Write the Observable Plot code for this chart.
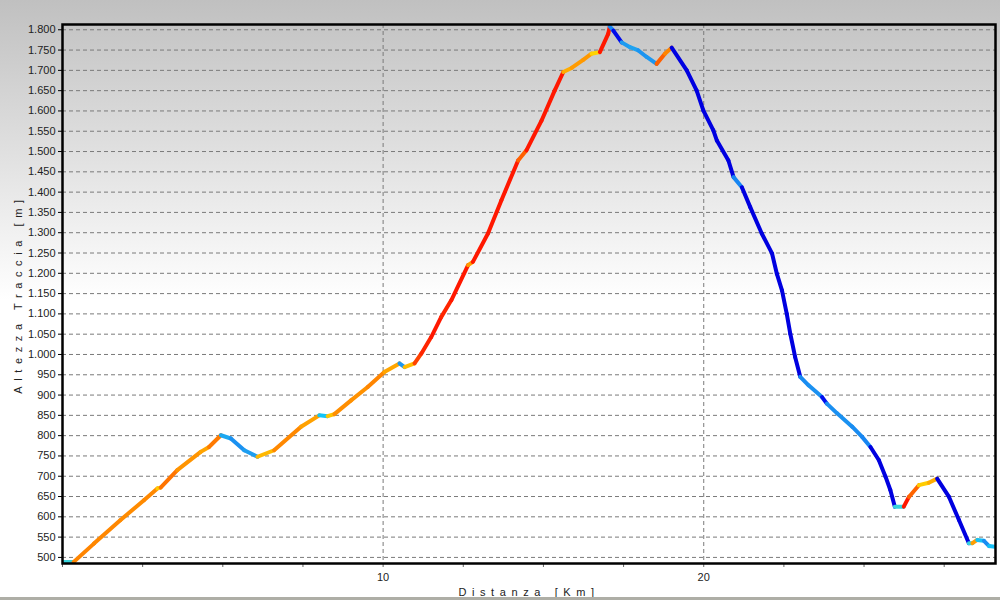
<!DOCTYPE html>
<html>
<head>
<meta charset="utf-8">
<script src="https://cdn.jsdelivr.net/npm/d3@7"></script>
<script src="https://cdn.jsdelivr.net/npm/@observablehq/plot@0.6"></script>
<style>
  html, body { margin: 0; padding: 0; }
  #chart {
    width: 1000px; height: 597px;
    background: linear-gradient(to bottom, #c0c0c0 0px, #ffffff 300px, #ffffff 597px);
    border-bottom: 3px solid #aeaea6;
  }
  #chart svg text { fill: #222; }
  #chart svg [aria-label="y-axis label"] text,
  #chart svg [aria-label="x-axis label"] text { letter-spacing: 5.6px; }
  #chart svg [aria-label="x-axis tick"] { stroke: #666; }
</style>
</head>
<body>
<div id="chart"></div>
<script>
// Distance along the track (km)
const distanceKm = [0, 0.35, 0.98, 1.81, 2.54, 2.96, 3.06, 3.58, 4.31, 4.57, 4.94, 5.25, 5.67, 6.08, 6.60, 7.44, 8.01, 8.27, 8.48, 9.0, 9.52, 10.04, 10.51, 10.67, 10.98, 11.19, 11.5, 11.81, 12.13, 12.65, 12.80, 13.27, 13.69, 14.21, 14.47, 14.94, 15.35, 15.62, 15.88, 16.24, 16.5, 16.76, 17.02, 17.07, 17.18, 17.44, 17.70, 17.96, 18.22, 18.53, 18.79, 19.0, 19.47, 19.78, 19.99, 20.30, 20.41, 20.77, 20.93, 21.19, 21.45, 21.81, 22.13, 22.28, 22.44, 22.59, 22.70, 22.85, 23.01, 23.27, 23.69, 23.84, 24.16, 24.63, 24.94, 25.2, 25.46, 25.67, 25.82, 25.96, 26.24, 26.4, 26.71, 27.02, 27.28, 27.65, 27.96, 28.27, 28.38, 28.53, 28.74, 28.9, 29.1];
// Track altitude (m)
const altitudeM = [489, 489, 534, 592, 641, 670, 672, 715, 760, 772, 801, 793, 764, 748, 764, 822, 850, 848, 853, 887, 920, 957, 978, 969, 978, 1002, 1043, 1092, 1134, 1220, 1228, 1298, 1380, 1478, 1503, 1576, 1650, 1696, 1706, 1726, 1741, 1745, 1790, 1808, 1798, 1769, 1757, 1749, 1733, 1716, 1741, 1756, 1700, 1650, 1601, 1552, 1527, 1478, 1437, 1412, 1363, 1298, 1249, 1199, 1158, 1100, 1051, 994, 945, 924, 895, 879, 855, 822, 797, 772, 740, 699, 666, 625, 625, 649, 678, 684, 694, 649, 592, 535, 535, 543, 541, 528, 526];

const yTicks = d3.range(500, 1801, 50);
const xTicks = d3.range(0, 29, 2.5);
const xLabels = [10, 20];

// Segments between consecutive track points, coloured by slope (%)
const segments = d3.pairs(d3.range(distanceKm.length)).map(([i, j]) => ({
  x1: distanceKm[i], y1: altitudeM[i],
  x2: distanceKm[j], y2: altitudeM[j],
  grade: (altitudeM[j] - altitudeM[i]) / ((distanceKm[j] - distanceKm[i]) * 10)
}));

const fmtIt = d => d3.format(",")(d).replace(/,/g, ".");

const plot = Plot.plot({
  width: 1000,
  height: 597,
  marginLeft: 62,
  marginRight: 5,
  marginTop: 24,
  marginBottom: 34,
  style: { background: "transparent", fontFamily: "Liberation Sans, Arial, sans-serif", fontSize: "11px" },
  x: {
    domain: [0, 29.1],
    ticks: xTicks,
    tickFormat: d => xLabels.includes(d) ? String(d) : "",
    tickSize: 4,
    tickPadding: 6,
    label: "Distanza [Km]",
    labelArrow: "none",
    labelAnchor: "center",
    labelOffset: 32
  },
  y: {
    domain: [485, 1813],
    ticks: yTicks,
    tickFormat: fmtIt,
    tickSize: 4,
    tickPadding: 3,
    label: "Altezza Traccia [m]",
    labelArrow: "none",
    labelAnchor: "center",
    labelOffset: 48
  },
  color: {
    type: "linear",
    domain: [-12, -10.6, -10, -3, -0.5, 0.5, 1.5, 3.5, 6, 10, 14],
    range: ["#0000e0", "#0010f0", "#1784f2", "#1fa2f0", "#10c8f8", "#60e0c0", "#ffd400", "#ffb000", "#ff9600", "#ff5a00", "#ff1800"],
    clamp: true
  },
  marks: [
    Plot.ruleY(yTicks, { stroke: "#7a7a7a", strokeDasharray: "4,3", strokeWidth: 1 }),
    Plot.ruleX(xLabels, { stroke: "#7a7a7a", strokeDasharray: "4,3", strokeWidth: 1 }),
    Plot.link(segments, {
      x1: "x1", y1: "y1", x2: "x2", y2: "y2",
      stroke: "grade",
      strokeWidth: 4,
      strokeLinecap: "round",
      clip: true
    }),
    Plot.frame({ stroke: "#000", strokeWidth: 2.5 })
  ]
});

// strip any direction arrows from axis labels
d3.select(plot).selectAll('[aria-label$="axis label"] text')
  .text(function () { return this.textContent.replace(/[\u2191\u2192\u2190\u2193]/g, "").trim(); });

document.getElementById("chart").appendChild(plot);
</script>
</body>
</html>
